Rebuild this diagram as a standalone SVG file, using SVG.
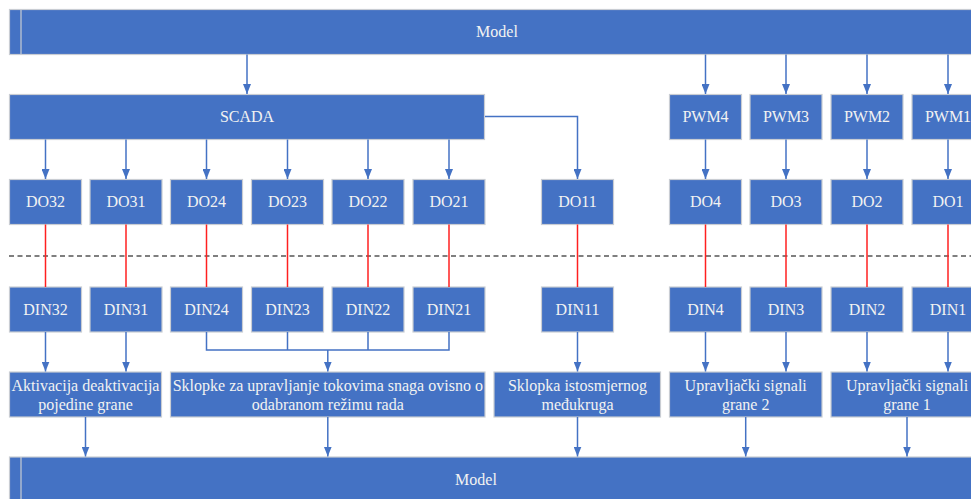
<svg xmlns="http://www.w3.org/2000/svg" width="971" height="499" viewBox="0 0 971 499">
<style>
.b{fill:#4472C4;stroke:#C9CDD3;stroke-width:1.2}
.t{font-family:"Liberation Serif","Times New Roman",serif;font-size:16px;fill:#F2F2F2;text-anchor:middle}
.c{fill:none;stroke:#4472C4;stroke-width:1.5}
.r{fill:none;stroke:#FF2020;stroke-width:1.5}
.a{marker-end:url(#ah)}
</style>
<defs>
<marker id="ah" viewBox="0 0 10 8" refX="10" refY="4" markerWidth="10" markerHeight="8" markerUnits="userSpaceOnUse" orient="auto">
<path d="M0,0 L10,4 L0,8 z" fill="#4472C4"/>
</marker>
</defs>
<g id="model-top">
<rect class="b" x="9.5" y="9.5" width="980" height="45"/>
<line x1="21" y1="9.5" x2="21" y2="54.5" stroke="#C9CDD3" stroke-width="1.2"/>
<text class="t" x="497" y="37">Model</text>
</g>
<g id="scada">
<rect class="b" x="9.5" y="94.5" width="475" height="45"/>
<text class="t" x="247" y="122">SCADA</text>
</g>
<g id="pwm4"><rect class="b" x="669.5" y="94.5" width="72" height="45"/><text class="t" x="705.5" y="122">PWM4</text></g>
<g id="pwm3"><rect class="b" x="750" y="94.5" width="72" height="45"/><text class="t" x="786" y="122">PWM3</text></g>
<g id="pwm2"><rect class="b" x="831" y="94.5" width="72" height="45"/><text class="t" x="867" y="122">PWM2</text></g>
<g id="pwm1"><rect class="b" x="912" y="94.5" width="72" height="45"/><text class="t" x="948" y="122">PWM1</text></g>

<g id="do32"><rect class="b" x="9.5" y="179.5" width="72" height="45"/><text class="t" x="45.5" y="207">DO32</text></g>
<g id="do31"><rect class="b" x="90" y="179.5" width="72" height="45"/><text class="t" x="126" y="207">DO31</text></g>
<g id="do24"><rect class="b" x="170.5" y="179.5" width="72" height="45"/><text class="t" x="206.5" y="207">DO24</text></g>
<g id="do23"><rect class="b" x="251.5" y="179.5" width="72" height="45"/><text class="t" x="287.5" y="207">DO23</text></g>
<g id="do22"><rect class="b" x="332" y="179.5" width="72" height="45"/><text class="t" x="368" y="207">DO22</text></g>
<g id="do21"><rect class="b" x="413" y="179.5" width="72" height="45"/><text class="t" x="449" y="207">DO21</text></g>
<g id="do11"><rect class="b" x="541.5" y="179.5" width="72" height="45"/><text class="t" x="577.5" y="207">DO11</text></g>
<g id="do4"><rect class="b" x="669.5" y="179.5" width="72" height="45"/><text class="t" x="705.5" y="207">DO4</text></g>
<g id="do3"><rect class="b" x="750" y="179.5" width="72" height="45"/><text class="t" x="786" y="207">DO3</text></g>
<g id="do2"><rect class="b" x="831" y="179.5" width="72" height="45"/><text class="t" x="867" y="207">DO2</text></g>
<g id="do1"><rect class="b" x="912" y="179.5" width="72" height="45"/><text class="t" x="948" y="207">DO1</text></g>

<g id="din32"><rect class="b" x="9.5" y="287" width="72" height="45"/><text class="t" x="45.5" y="315">DIN32</text></g>
<g id="din31"><rect class="b" x="90" y="287" width="72" height="45"/><text class="t" x="126" y="315">DIN31</text></g>
<g id="din24"><rect class="b" x="170.5" y="287" width="72" height="45"/><text class="t" x="206.5" y="315">DIN24</text></g>
<g id="din23"><rect class="b" x="251.5" y="287" width="72" height="45"/><text class="t" x="287.5" y="315">DIN23</text></g>
<g id="din22"><rect class="b" x="332" y="287" width="72" height="45"/><text class="t" x="368" y="315">DIN22</text></g>
<g id="din21"><rect class="b" x="413" y="287" width="72" height="45"/><text class="t" x="449" y="315">DIN21</text></g>
<g id="din11"><rect class="b" x="541.5" y="287" width="72" height="45"/><text class="t" x="577.5" y="315">DIN11</text></g>
<g id="din4"><rect class="b" x="669.5" y="287" width="72" height="45"/><text class="t" x="705.5" y="315">DIN4</text></g>
<g id="din3"><rect class="b" x="750" y="287" width="72" height="45"/><text class="t" x="786" y="315">DIN3</text></g>
<g id="din2"><rect class="b" x="831" y="287" width="72" height="45"/><text class="t" x="867" y="315">DIN2</text></g>
<g id="din1"><rect class="b" x="912" y="287" width="72" height="45"/><text class="t" x="948" y="315">DIN1</text></g>

<g id="aktivacija"><rect class="b" x="9.5" y="372" width="152" height="45"/><text class="t" x="85.5" y="391">Aktivacija deaktivacija</text><text class="t" x="85.5" y="410">pojedine grane</text></g>
<g id="sklopke"><rect class="b" x="170.5" y="372" width="314.5" height="45"/><text class="t" x="327.8" y="391">Sklopke za upravljanje tokovima snaga ovisno o</text><text class="t" x="327.8" y="410">odabranom režimu rada</text></g>
<g id="sklopka"><rect class="b" x="494" y="372" width="166.5" height="45"/><text class="t" x="577.5" y="391">Sklopka istosmjernog</text><text class="t" x="577.5" y="410">međukruga</text></g>
<g id="upr2"><rect class="b" x="669.5" y="372" width="152.5" height="45"/><text class="t" x="745.7" y="391">Upravljački signali</text><text class="t" x="745.7" y="410">grane 2</text></g>
<g id="upr1"><rect class="b" x="831" y="372" width="152" height="45"/><text class="t" x="907" y="391">Upravljački signali</text><text class="t" x="907" y="410">grane 1</text></g>

<g id="model-bottom">
<rect class="b" x="9.5" y="457" width="980" height="50"/>
<line x1="21" y1="457" x2="21" y2="499" stroke="#C9CDD3" stroke-width="1.2"/>
<text class="t" x="476" y="485">Model</text>
</g>

<line id="separator" x1="9" y1="256" x2="971" y2="256" stroke="#000" stroke-width="1.2" stroke-dasharray="5 3.5"/>

<g id="connectors">
<line class="c a" x1="247" y1="54.5" x2="247" y2="94"/>
<line class="c a" x1="705.5" y1="54.5" x2="705.5" y2="94"/>
<line class="c a" x1="786" y1="54.5" x2="786" y2="94"/>
<line class="c a" x1="867" y1="54.5" x2="867" y2="94"/>
<line class="c a" x1="948" y1="54.5" x2="948" y2="94"/>

<line class="c a" x1="45.5" y1="139.5" x2="45.5" y2="179"/>
<line class="c a" x1="126" y1="139.5" x2="126" y2="179"/>
<line class="c a" x1="206.5" y1="139.5" x2="206.5" y2="179"/>
<line class="c a" x1="287.5" y1="139.5" x2="287.5" y2="179"/>
<line class="c a" x1="368" y1="139.5" x2="368" y2="179"/>
<line class="c a" x1="449" y1="139.5" x2="449" y2="179"/>
<path class="c a" d="M485,116.5 H577.5 V179"/>
<line class="c a" x1="705.5" y1="139.5" x2="705.5" y2="179"/>
<line class="c a" x1="786" y1="139.5" x2="786" y2="179"/>
<line class="c a" x1="867" y1="139.5" x2="867" y2="179"/>
<line class="c a" x1="948" y1="139.5" x2="948" y2="179"/>

<line class="r" x1="45.5" y1="224.5" x2="45.5" y2="287"/>
<line class="r" x1="126" y1="224.5" x2="126" y2="287"/>
<line class="r" x1="206.5" y1="224.5" x2="206.5" y2="287"/>
<line class="r" x1="287.5" y1="224.5" x2="287.5" y2="287"/>
<line class="r" x1="368" y1="224.5" x2="368" y2="287"/>
<line class="r" x1="449" y1="224.5" x2="449" y2="287"/>
<line class="r" x1="577.5" y1="224.5" x2="577.5" y2="287"/>
<line class="r" x1="705.5" y1="224.5" x2="705.5" y2="287"/>
<line class="r" x1="786" y1="224.5" x2="786" y2="287"/>
<line class="r" x1="867" y1="224.5" x2="867" y2="287"/>
<line class="r" x1="948" y1="224.5" x2="948" y2="287"/>

<line class="c a" x1="45.5" y1="332" x2="45.5" y2="371.5"/>
<line class="c a" x1="126" y1="332" x2="126" y2="371.5"/>
<path class="c" d="M206.5,332 V350 H449 V332 M287.5,332 V350 M368,332 V350"/>
<line class="c a" x1="327.8" y1="350" x2="327.8" y2="371.5"/>
<line class="c a" x1="577.5" y1="332" x2="577.5" y2="371.5"/>
<line class="c a" x1="705.5" y1="332" x2="705.5" y2="371.5"/>
<line class="c a" x1="786" y1="332" x2="786" y2="371.5"/>
<line class="c a" x1="867" y1="332" x2="867" y2="371.5"/>
<line class="c a" x1="948" y1="332" x2="948" y2="371.5"/>

<line class="c a" x1="85.5" y1="417" x2="85.5" y2="456.5"/>
<line class="c a" x1="327.8" y1="417" x2="327.8" y2="456.5"/>
<line class="c a" x1="577.5" y1="417" x2="577.5" y2="456.5"/>
<line class="c a" x1="745.7" y1="417" x2="745.7" y2="456.5"/>
<line class="c a" x1="907" y1="417" x2="907" y2="456.5"/>
</g>
</svg>
